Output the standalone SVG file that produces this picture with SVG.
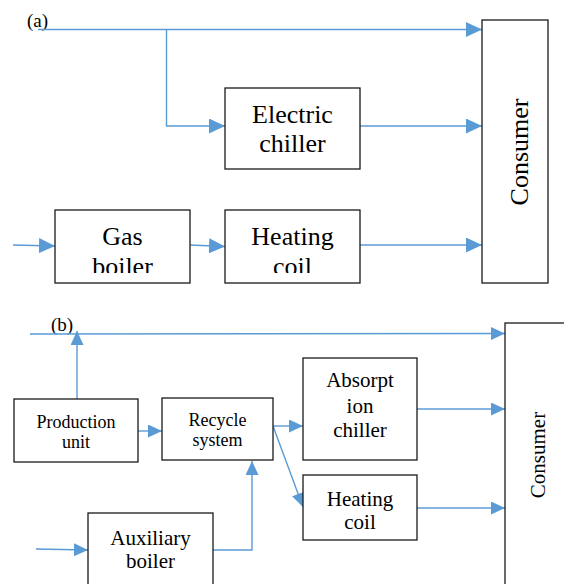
<svg xmlns="http://www.w3.org/2000/svg" width="564" height="584" viewBox="0 0 564 584">
<style>
.box{fill:#fff;stroke:#1a1a1a;stroke-width:1.3}
.ln{fill:none;stroke:#5b9bd5;stroke-width:1.4}
.la{marker-end:url(#ahA)}
.lb{marker-end:url(#ahB)}
text{font-family:"Liberation Serif","Times New Roman",Times,serif;fill:#000;text-anchor:middle}
.ta{font-size:26px}
.tb{font-size:18px}
.tc{font-size:21px}
</style>
<defs>
<marker id="ahA" markerUnits="userSpaceOnUse" markerWidth="16" markerHeight="15" refX="16" refY="7.5" orient="auto">
<path d="M0,0 L16,7.5 L0,15 z" fill="#5b9bd5"/>
</marker>
<marker id="ahB" markerUnits="userSpaceOnUse" markerWidth="14" markerHeight="13" refX="14" refY="6.5" orient="auto">
<path d="M0,0 L14,6.5 L0,13 z" fill="#5b9bd5"/>
</marker>
<clipPath id="clipGas"><rect x="55" y="210" width="135" height="63"/></clipPath>
<clipPath id="clipHC"><rect x="225" y="210" width="135" height="63"/></clipPath>
</defs>

<text x="37.5" y="27" font-size="19">(a)</text>
<text x="62" y="331" font-size="19">(b)</text>

<g id="connectors">
<path class="ln la" d="M38,29.5 L482,29.5"/>
<path class="ln la" d="M166.5,29.5 L166.5,126 L225,126"/>
<path class="ln la" d="M360,126 L482,126"/>
<path class="ln la" d="M13,245 L55,246"/>
<path class="ln la" d="M190,245 L225,246.5"/>
<path class="ln la" d="M360,245 L482,245"/>
<path class="ln lb" d="M30,334 L505,333.5"/>
<path class="ln lb" d="M77,399 L77,331"/>
<path class="ln lb" d="M138,431 L162,431"/>
<path class="ln lb" d="M273,426 L303,426"/>
<path class="ln lb" d="M273,426 L303,507"/>
<path class="ln lb" d="M417,409 L505,409"/>
<path class="ln lb" d="M417,508 L505,508"/>
<path class="ln lb" d="M36,549 L88,550"/>
<path class="ln lb" d="M213,550 L252,550 L252,461"/>
</g>

<g id="electric-chiller">
<rect class="box" x="225" y="88" width="135" height="81"/>
<text class="ta" x="292.5" y="123">Electric</text>
<text class="ta" x="292.5" y="152">chiller</text>
</g>

<g id="consumer-a">
<rect class="box" x="482" y="20" width="66" height="263"/>
<text class="ta" transform="translate(528,152) rotate(-90)">Consumer</text>
</g>

<g id="gas-boiler">
<rect class="box" x="55" y="210" width="135" height="73"/>
<g clip-path="url(#clipGas)">
<text class="ta" x="122.5" y="245">Gas</text>
<text class="ta" x="122.5" y="275">boiler</text>
</g>
</g>

<g id="heating-coil-a">
<rect class="box" x="225" y="210" width="135" height="73"/>
<g clip-path="url(#clipHC)">
<text class="ta" x="292.5" y="245">Heating</text>
<text class="ta" x="292.5" y="275">coil</text>
</g>
</g>

<g id="production-unit">
<rect class="box" x="14" y="399" width="124" height="63"/>
<text class="tb" x="76" y="428">Production</text>
<text class="tb" x="76" y="448">unit</text>
</g>

<g id="recycle-system">
<rect class="box" x="162" y="398" width="111" height="62"/>
<text class="tb" x="217.5" y="426">Recycle</text>
<text class="tb" x="217.5" y="446">system</text>
</g>

<g id="absorption-chiller">
<rect class="box" x="303" y="358" width="114" height="102"/>
<text class="tc" x="360" y="387">Absorpt</text>
<text class="tc" x="360" y="412.5">ion</text>
<text class="tc" x="360" y="437">chiller</text>
</g>

<g id="heating-coil-b">
<rect class="box" x="303" y="475" width="114" height="65"/>
<text class="tc" x="360" y="506">Heating</text>
<text class="tc" x="360" y="529">coil</text>
</g>

<g id="consumer-b">
<rect class="box" x="505" y="323" width="70" height="270"/>
<text class="tc" transform="translate(545,455) rotate(-90)">Consumer</text>
</g>

<g id="auxiliary-boiler">
<rect class="box" x="88" y="513" width="125" height="80"/>
<text class="tc" x="150.5" y="545">Auxiliary</text>
<text class="tc" x="150.5" y="568">boiler</text>
</g>
</svg>
